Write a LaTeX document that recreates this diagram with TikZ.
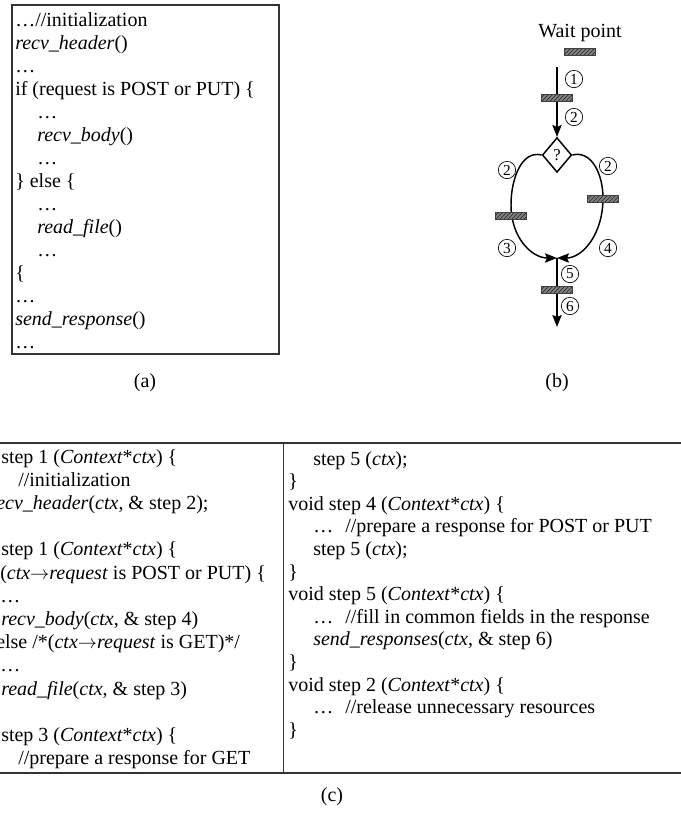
\documentclass[tikz,border=0pt]{standalone}
\usepackage{fontspec}
\setmainfont{Liberation Serif}
\usetikzlibrary{arrows.meta,patterns,shapes.geometric}

\begin{document}
\begin{tikzpicture}[x=0.75pt,y=-0.75pt,
    font=\fontsize{15}{17}\selectfont,
    codeline/.style={anchor=base west,inner sep=0pt},
    panel/.style={draw=black!80,line width=1.2pt},
    bar/.style={draw=black!75,line width=0.4pt,minimum width=23pt,minimum height=5.2pt,
      inner sep=0pt,preaction={fill=black!50},pattern=north east lines,pattern color=black!85},
    num/.style={circle,draw,line width=0.5pt,inner sep=0pt,minimum size=13pt,
      font=\fontsize{11.5}{11.5}\selectfont},
    flow/.style={line width=1.1pt,-{Stealth[length=9pt,width=7pt,inset=1.5pt]}}]
  \useasboundingbox (0,0) rectangle (681,815);
  \clip (0,0) rectangle (681,815);

  % (a) original handler
  \draw[panel] (12,5) rectangle (279,354);
  \node[codeline] (a1) at (15,26) {…//initialization};
  \node[codeline] (a2) at (15,49) {\textit{recv\_header}()};
  \node[codeline] (a3) at (15,72) {…};
  \node[codeline] (a4) at (15,95) {if (request is POST or PUT) \{};
  \node[codeline] (a5) at (37,118) {…};
  \node[codeline] (a6) at (37,141) {\textit{recv\_body}()};
  \node[codeline] (a7) at (37,164) {…};
  \node[codeline] (a8) at (15,187) {\} else \{};
  \node[codeline] (a9) at (37,210) {…};
  \node[codeline] (a10) at (37,233) {\textit{read\_file}()};
  \node[codeline] (a11) at (37,256) {…};
  \node[codeline] (a12) at (15,279) {\{};
  \node[codeline] (a13) at (15,302) {…};
  \node[codeline] (a14) at (15,325) {\textit{send\_response}()};
  \node[codeline] (a15) at (15,348) {…};
  \node (capa) at (145,383) {(a)};

  % (b) step graph
  \node (wait) at (580,33) {Wait point};
  \node[bar] (b0) at (580,51.5) {};
  \coordinate (top) at (557,67);
  \node[diamond,draw,line width=1.1pt,inner sep=0pt,minimum width=22pt,minimum height=26pt,
    font=\fontsize{12.5}{12.5}\selectfont] (q) at (557,155) {?};
  \coordinate (join) at (557,258);
  \coordinate (bot) at (557,327);
  \draw[flow] (top) -- (q);
  \draw[flow] (q.west) .. controls (522,150) and (511,178) .. (511,205)
    .. controls (511,238) and (532,258) .. (join);
  \draw[flow] (q.east) .. controls (592,150) and (603,175) .. (603,198)
    .. controls (603,235) and (582,258) .. (join);
  \draw[flow] (join) -- (bot);
  \node[bar] (b1) at (557,98) {};
  \node[bar] (b2) at (511,215.5) {};
  \node[bar] (b3) at (602.5,199) {};
  \node[bar] (b4) at (557,290) {};
  \node[num] (n1) at (574,79) {1};
  \node[num] (n2) at (574,117) {2};
  \node[num] (n2l) at (507,170) {2};
  \node[num] (n2r) at (608,166) {2};
  \node[num] (n3) at (507,248) {3};
  \node[num] (n4) at (608,248) {4};
  \node[num] (n5) at (570,274) {5};
  \node[num] (n6) at (570,306) {6};
  \node (capb) at (557,383) {(b)};

  % (c) split into steps
  \draw[panel] (0,443) -- (681,443);
  \draw[panel] (0,773) -- (681,773);
  \draw[panel] (283.5,443) -- (283.5,773);

  % left column
  \node[codeline] (l1) at (1,463) {step 1 (\textit{Context}*\textit{ctx}) \{};
  \node[codeline] (l2) at (18,486.2) {//initialization};
  \node[codeline] (l3) at (-11,509.4) {\textit{recv\_header}(\textit{ctx}, \& step 2);};
  \node[codeline] (l5) at (1,555.8) {step 1 (\textit{Context}*\textit{ctx}) \{};
  \node[codeline] (l6) at (0,579) {(\textit{ctx}$\rightarrow$\textit{request} is POST or PUT) \{};
  \node[codeline] (l7) at (0,602.2) {…};
  \node[codeline] (l8) at (1,625.4) {\textit{recv\_body}(\textit{ctx}, \& step 4)};
  \node[codeline] (l9) at (-4,648.6) {else /*(\textit{ctx}$\rightarrow$\textit{request} is GET)*/};
  \node[codeline] (l10) at (0,671.8) {…};
  \node[codeline] (l11) at (1,695) {\textit{read\_file}(\textit{ctx}, \& step 3)};
  \node[codeline] (l13) at (1,741.4) {step 3 (\textit{Context}*\textit{ctx}) \{};
  \node[codeline] (l14) at (18,764.6) {//prepare a response for GET};

  % right column
  \node[codeline] (r1) at (313,465) {step 5 (\textit{ctx});};
  \node[codeline] (r2) at (288,487.6) {\}};
  \node[codeline] (r3) at (288,510.2) {void step 4 (\textit{Context}*\textit{ctx}) \{};
  \node[codeline] (r4) at (313,532.8) {…\hspace{0.6em}//prepare a response for POST or PUT};
  \node[codeline] (r5) at (313,555.4) {step 5 (\textit{ctx});};
  \node[codeline] (r6) at (288,578) {\}};
  \node[codeline] (r7) at (288,600.6) {void step 5 (\textit{Context}*\textit{ctx}) \{};
  \node[codeline] (r8) at (313,623.2) {…\hspace{0.6em}//fill in common fields in the response};
  \node[codeline] (r9) at (313,645.8) {\textit{send\_responses}(\textit{ctx}, \& step 6)};
  \node[codeline] (r10) at (288,668.4) {\}};
  \node[codeline] (r11) at (288,691) {void step 2 (\textit{Context}*\textit{ctx}) \{};
  \node[codeline] (r12) at (313,713.6) {…\hspace{0.6em}//release unnecessary resources};
  \node[codeline] (r13) at (288,736.2) {\}};
  \node (capc) at (332,797) {(c)};
\end{tikzpicture}
\end{document}
